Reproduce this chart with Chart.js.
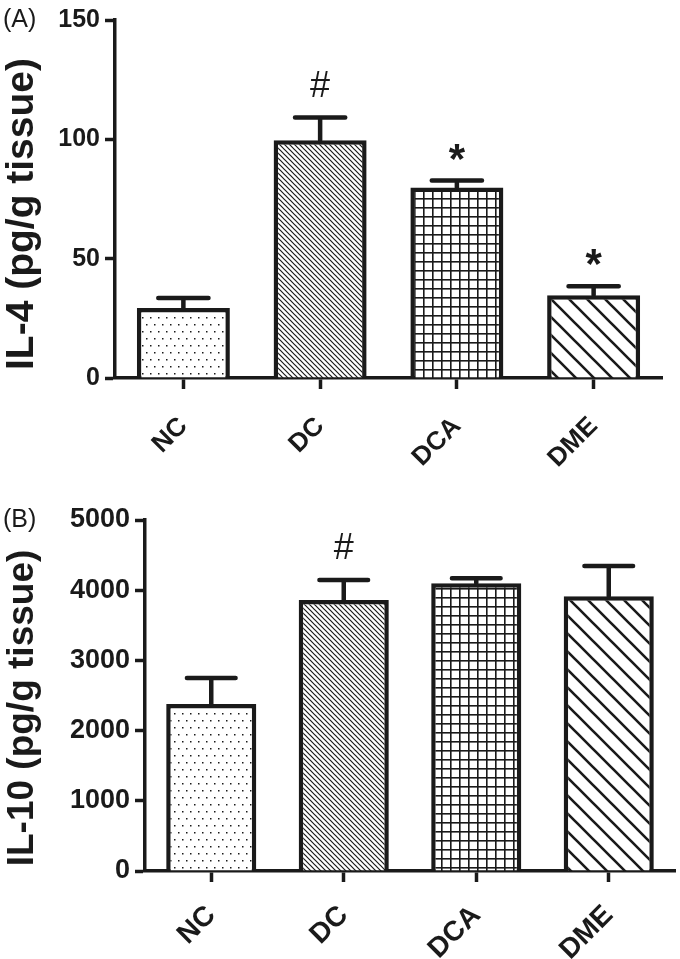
<!DOCTYPE html>
<html>
<head>
<meta charset="utf-8">
<script src="https://cdn.jsdelivr.net/npm/chart.js@4.4.1/dist/chart.umd.min.js"></script>
<style>
  body { margin: 0; background: #fff; }
  canvas { display: block; }
</style>
</head>
<body>
<canvas id="chart_a" width="680" height="480"></canvas>
<canvas id="chart_b" width="680" height="479"></canvas>
<script>
// groups on the x axis (same in both panels)
const groups = ['NC', 'DC', 'DCA', 'DME'];

// panel A : IL-4
const il4Mean = [29.3, 99.6, 79.8, 34.7];
const il4Sem = [4.2, 9.5, 2.9, 3.7];
const il4Marks = ['', '#', '*', '*'];
const il4Ticks = [0, 50, 100, 150];

// panel B : IL-10
const il10Mean = [2380, 3860, 4100, 3915];
const il10Sem = [370, 285, 70, 430];
const il10Marks = ['', '#', '', ''];
const il10Ticks = [0, 1000, 2000, 3000, 4000, 5000];

const ink = '#1a1a1a';
const family = "'Liberation Sans', Arial, sans-serif";

// hatch fills, one per group
function makePattern(kind) {
    const c = document.createElement('canvas');
    const size = { dots: [8, 14], dense: [5, 5], grid: [9, 9], wide: [18, 18] }[kind];
    c.width = size[0];
    c.height = size[1];
    const ctx = c.getContext('2d');
    ctx.fillStyle = '#fff';
    ctx.fillRect(0, 0, c.width, c.height);
    ctx.fillStyle = ink;
    ctx.strokeStyle = ink;
    if (kind === 'dots') {
        ctx.fillRect(2, 2, 1.5, 1.5);
        ctx.fillRect(6, 9, 1.5, 1.5);
    } else if (kind === 'grid') {
        ctx.fillRect(0, 0, 9, 1.6);
        ctx.fillRect(0, 0, 1.6, 9);
    } else {
        const s = c.width;
        ctx.lineWidth = kind === 'dense' ? 1.2 : 2.6;
        ctx.beginPath();
        for (const o of [-s, 0, s]) {
            ctx.moveTo(o - 1, -1);
            ctx.lineTo(o + s + 1, s + 1);
        }
        ctx.stroke();
    }
    return ctx.createPattern(c, 'repeat');
}

const fills = ['dots', 'dense', 'grid', 'wide'].map(makePattern);

function makeChart(id, p) {
    // upper error bars and significance marks
    const errBars = {
        id: 'errBars',
        afterDatasetsDraw(chart) {
            const ctx = chart.ctx;
            const y = chart.scales.y;
            const meta = chart.getDatasetMeta(0);
            ctx.save();
            ctx.strokeStyle = ink;
            ctx.fillStyle = ink;
            ctx.lineWidth = 4.5;
            ctx.lineCap = 'round';
            meta.data.forEach((bar, i) => {
                const top = y.getPixelForValue(p.mean[i] + p.sem[i]);
                const half = bar.width * 0.27;
                ctx.beginPath();
                ctx.moveTo(bar.x, bar.y);
                ctx.lineTo(bar.x, top);
                ctx.moveTo(bar.x - half, top);
                ctx.lineTo(bar.x + half, top);
                ctx.stroke();
                const mark = p.marks[i];
                if (mark) {
                    ctx.font = mark === '*' ? 'bold 42px ' + family : '36px ' + family;
                    ctx.textAlign = 'center';
                    ctx.textBaseline = 'alphabetic';
                    const m = ctx.measureText(mark);
                    ctx.fillText(mark, bar.x, top - 21 - m.actualBoundingBoxDescent);
                }
            });
            ctx.restore();
        }
    };

    // panel letter and y title
    const titles = {
        id: 'titles',
        afterDraw(chart) {
            const ctx = chart.ctx;
            ctx.save();
            ctx.fillStyle = ink;
            ctx.textBaseline = 'alphabetic';
            ctx.font = '25px ' + family;
            ctx.textAlign = 'left';
            ctx.fillText(p.letter, 3, p.letterY);
            ctx.translate(33, p.titleY);
            ctx.rotate(-Math.PI / 2);
            ctx.font = 'bold ' + p.titleSize + 'px ' + family;
            ctx.textAlign = 'center';
            ctx.fillText(p.title, 0, 0);
            ctx.restore();
        }
    };

    return new Chart(document.getElementById(id), {
        type: 'bar',
        data: {
            labels: groups,
            datasets: [{
                data: p.mean,
                backgroundColor: fills,
                borderColor: ink,
                borderWidth: 4.5,
                barPercentage: 0.68,
                categoryPercentage: 1
            }]
        },
        options: {
            responsive: false,
            animation: false,
            devicePixelRatio: 1,
            layout: { padding: { top: p.top, right: p.right, bottom: 0, left: 0 } },
            plugins: { legend: { display: false }, tooltip: { enabled: false } },
            scales: {
                x: {
                    grid: { offset: false, drawOnChartArea: false, tickLength: 11, tickWidth: 3.5, tickColor: ink },
                    border: { color: ink, width: 3.5 },
                    ticks: {
                        color: ink,
                        font: { family: family, size: p.xLabelSize, weight: 'bold' },
                        minRotation: 45,
                        maxRotation: 45,
                        padding: p.xPad
                    },
                    afterFit: (s) => { s.height = p.xHeight; }
                },
                y: {
                    min: p.ticks[0],
                    max: p.ticks[p.ticks.length - 1],
                    grid: { drawOnChartArea: false, tickLength: 10, tickWidth: 3.5, tickColor: ink },
                    border: { color: ink, width: 3.5 },
                    ticks: {
                        stepSize: p.ticks[1] - p.ticks[0],
                        color: ink,
                        font: { family: family, size: p.yLabelSize, weight: 'bold' },
                        padding: 5,
                        callback: (v) => String(v)
                    },
                    afterFit: (s) => { s.width = p.left; }
                }
            }
        },
        plugins: [errBars, titles]
    });
}

makeChart('chart_a', {
    mean: il4Mean, sem: il4Sem, marks: il4Marks, ticks: il4Ticks,
    title: 'IL-4 (pg/g tissue)', letter: '(A)',
    top: 15, right: 18, left: 115, xHeight: 102, xPad: 22,
    yLabelSize: 25, xLabelSize: 26, titleSize: 39, titleY: 214, letterY: 27
});

makeChart('chart_b', {
    mean: il10Mean, sem: il10Sem, marks: il10Marks, ticks: il10Ticks,
    title: 'IL-10 (pg/g tissue)', letter: '(B)',
    top: 40, right: 5, left: 145, xHeight: 88, xPad: 17,
    yLabelSize: 27, xLabelSize: 28, titleSize: 37, titleY: 228, letterY: 47
});
</script>
</body>
</html>
